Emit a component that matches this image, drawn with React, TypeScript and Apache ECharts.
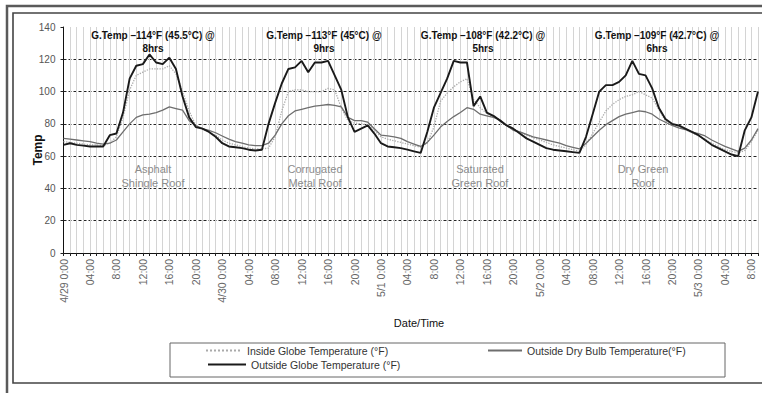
import React, { useEffect, useRef } from "react";
import * as echarts from "echarts";

// Hourly readings from 4/29 0:00 to 5/3 9:00 (106 points)
const tickLabels = [
  "4/29 0:00", "04:00", "8:00", "12:00", "16:00", "20:00",
  "4/30 0:00", "04:00", "08:00", "12:00", "16:00", "20:00",
  "5/1 0:00", "04:00", "8:00", "12:00", "16:00", "20:00",
  "5/2 0:00", "04:00", "08:00", "12:00", "16:00", "20:00",
  "5/3 0:00", "04:00", "8:00",
];

const outsideGlobe = [
  67, 68, 67, 66.5, 66, 66, 66, 73, 74, 87,
  108, 116, 117, 123, 118, 117, 121, 114, 97, 84,
  78, 77, 75, 72, 68, 66, 65.5, 65, 64, 63.5,
  64, 80, 93, 105, 114, 115, 119, 112, 118, 118,
  119, 110, 101, 84, 75, 77, 79, 74, 68, 66,
  65.5, 65, 64, 63, 62, 75, 90, 99, 108, 119,
  118, 118, 91, 97, 87, 85, 82, 79, 77, 74,
  71, 69, 67, 65, 64, 63.5, 63, 62.5, 62, 72,
  86, 100, 104, 104, 106, 110, 119, 111, 110, 102,
  90, 83, 80, 79, 77, 75, 73, 70, 67, 65,
  63, 61, 60, 76, 84, 100,
];

const dryBulb = [
  71, 70.5, 70, 69.5, 69, 68, 67.5, 68, 70, 75,
  80, 84, 85.5, 86, 87, 88.5, 90.5, 89.5, 88.5, 82,
  79, 77, 76, 74.5, 72.5, 70.5, 69, 68, 67, 66.5,
  66.5, 68, 73, 80, 85, 88, 89, 90, 91, 91.5,
  92, 91.5, 90.5, 84, 82, 82, 81, 77, 73, 72.5,
  72, 71, 69, 67.5, 66, 68.5, 73, 78, 81.5, 84.5,
  87, 90, 89, 86, 85, 84, 82.5, 79, 76, 75,
  73.5, 72, 71, 70, 69, 68, 66.5, 65.5, 64.5, 68,
  72, 76, 79.5, 82, 84.5, 86, 87, 88, 87.5, 86,
  83, 81, 79, 77.5, 76.5, 75, 74, 72.5, 70, 68,
  66, 64.5, 63, 65, 70, 77,
];

const insideGlobe = [
  69, 68.5, 68, 67.5, 67, 67, 66.5, 68, 72, 84,
  101, 110, 112, 114, 114, 114, 116, 111, 100, 88,
  79, 77, 75, 73, 70, 68, 67, 66, 65, 64.5,
  64.5, 65, 72, 88, 100, 101, 101, 100, 100, 100,
  102, 101, 90, 82, 80.5, 80, 79.5, 76, 72, 70.5,
  69.5, 68.5, 67.5, 66.5, 65.5, 68, 78, 94, 99, 103,
  106, 108, 95, 90, 86.5, 84.5, 82, 79, 77, 75,
  73, 71.5, 70, 68.5, 67, 66, 65, 64, 63, 67,
  74, 81, 88, 92, 95, 97, 98, 100, 98, 96,
  89, 82, 79.5, 78, 76.5, 74.5, 72.5, 70.5, 68, 66,
  64, 63, 62, 63.5, 69, 76,
];

const seriesNames = [
  "Inside Globe Temperature (°F)",
  "Outside Dry Bulb Temperature(°F)",
  "Outside Globe Temperature (°F)",
];

const peakNotes = [
  "G.Temp –114°F (45.5°C) @\n8hrs",
  "G.Temp –113°F (45°C) @\n9hrs",
  "G.Temp –108°F (42.2°C) @\n5hrs",
  "G.Temp –109°F (42.7°C) @\n6hrs",
];
const roofNotes = [
  "Asphalt\nShingle Roof",
  "Corrugated\nMetal Roof",
  "Saturated\nGreen Roof",
  "Dry Green\nRoof",
];
const peakNoteX = [153, 324, 483, 657];
const roofNoteX = [153, 315, 480, 643];

const FONT = "Liberation Sans";

export default function App() {
  const ref = useRef<HTMLDivElement>(null);

  useEffect(() => {
    if (!ref.current) return;
    const chart = echarts.init(ref.current, undefined, { renderer: "svg" });
    const categories = outsideGlobe.map((_, i) => String(i));

    const graphics: any[] = [
      {
        type: "rect",
        shape: { x: 7, y: 6, width: 800, height: 420 },
        style: { fill: "none", stroke: "#5a5a5a", lineWidth: 2.5 },
        silent: true,
      },
      {
        type: "rect",
        shape: { x: 13, y: 13, width: 800, height: 370 },
        style: { fill: "none", stroke: "#444", lineWidth: 1.6 },
        silent: true,
      },
      {
        type: "rect",
        shape: { x: 170, y: 343, width: 555, height: 34 },
        style: { fill: "none", stroke: "#666", lineWidth: 1 },
        silent: true,
      },
      {
        type: "text",
        x: 38,
        y: 150,
        rotation: Math.PI / 2,
        style: {
          text: "Temp",
          fontFamily: FONT,
          fontSize: 12,
          fontWeight: "bold",
          fill: "#111",
          align: "center",
          verticalAlign: "middle",
        },
      },
      {
        type: "text",
        x: 419,
        y: 323,
        style: {
          text: "Date/Time",
          fontFamily: FONT,
          fontSize: 11,
          fill: "#111",
          align: "center",
          verticalAlign: "middle",
        },
      },
    ];
    peakNotes.forEach((t, i) => {
      graphics.push({
        type: "text",
        x: peakNoteX[i],
        y: 42,
        z: 10,
        style: {
          text: t,
          fontFamily: FONT,
          fontSize: 10,
          fontWeight: "bold",
          fill: "#111",
          align: "center",
          verticalAlign: "middle",
          lineHeight: 13,
        },
      });
    });
    roofNotes.forEach((t, i) => {
      graphics.push({
        type: "text",
        x: roofNoteX[i],
        y: 176,
        z: 10,
        style: {
          text: t,
          fontFamily: FONT,
          fontSize: 11,
          fill: "#8c8c8c",
          align: "center",
          verticalAlign: "middle",
          lineHeight: 14,
        },
      });
    });

    const legendText = { fontFamily: FONT, fontSize: 10.5, color: "#333" };
    const legendCommon = {
      itemHeight: 12,
      textStyle: legendText,
      itemStyle: { opacity: 0, borderWidth: 0 },
      selectedMode: false,
    };

    chart.setOption({
      animation: false,
      backgroundColor: "#fff",
      grid: { left: 63.5, top: 27, right: 4, bottom: 140, containLabel: false },
      legend: [
        { ...legendCommon, data: [seriesNames[0]], left: 200, top: 340, itemWidth: 36 },
        { ...legendCommon, data: [seriesNames[1]], left: 482, top: 340, itemWidth: 34 },
        { ...legendCommon, data: [seriesNames[2]], left: 202, top: 354, itemWidth: 38 },
      ],
      xAxis: {
        type: "category",
        data: categories,
        boundaryGap: false,
        axisLine: { lineStyle: { color: "#111", width: 1 } },
        axisTick: { show: true, interval: 0, length: 3, lineStyle: { color: "#222" } },
        axisLabel: {
          interval: 3,
          rotate: 90,
          fontFamily: FONT,
          fontSize: 10.5,
          color: "#666",
          margin: 6,
          formatter: (v: string) => tickLabels[Number(v) / 4] ?? "",
        },
        splitLine: { show: true, interval: 0, lineStyle: { color: "#d4d4d4", width: 1 } },
      },
      yAxis: {
        type: "value",
        min: 0,
        max: 140,
        interval: 20,
        axisLine: { show: true, lineStyle: { color: "#111", width: 1 } },
        axisTick: { show: true, length: 3, lineStyle: { color: "#222" } },
        axisLabel: { fontFamily: FONT, fontSize: 10, color: "#555", margin: 8 },
        splitLine: {
          show: true,
          showMaxLine: false,
          lineStyle: { color: "#222", type: [3, 2], width: 1 },
        },
      },
      series: [
        {
          name: seriesNames[0],
          type: "line",
          data: insideGlobe,
          symbol: "none",
          lineStyle: { color: "#aaaaaa", width: 1.3, type: "dotted" },
          itemStyle: { color: "#aaaaaa" },
          z: 3,
        },
        {
          name: seriesNames[1],
          type: "line",
          data: dryBulb,
          symbol: "none",
          lineStyle: { color: "#6e6e6e", width: 1.3 },
          itemStyle: { color: "#6e6e6e" },
          z: 4,
        },
        {
          name: seriesNames[2],
          type: "line",
          data: outsideGlobe,
          symbol: "none",
          lineStyle: { color: "#1a1a1a", width: 1.9 },
          itemStyle: { color: "#1a1a1a" },
          z: 5,
        },
      ],
      graphic: graphics,
    });

    return () => chart.dispose();
  }, []);

  return (
    <div
      ref={ref}
      style={{ position: "fixed", left: 0, top: 0, width: 762, height: 393 }}
    />
  );
}
